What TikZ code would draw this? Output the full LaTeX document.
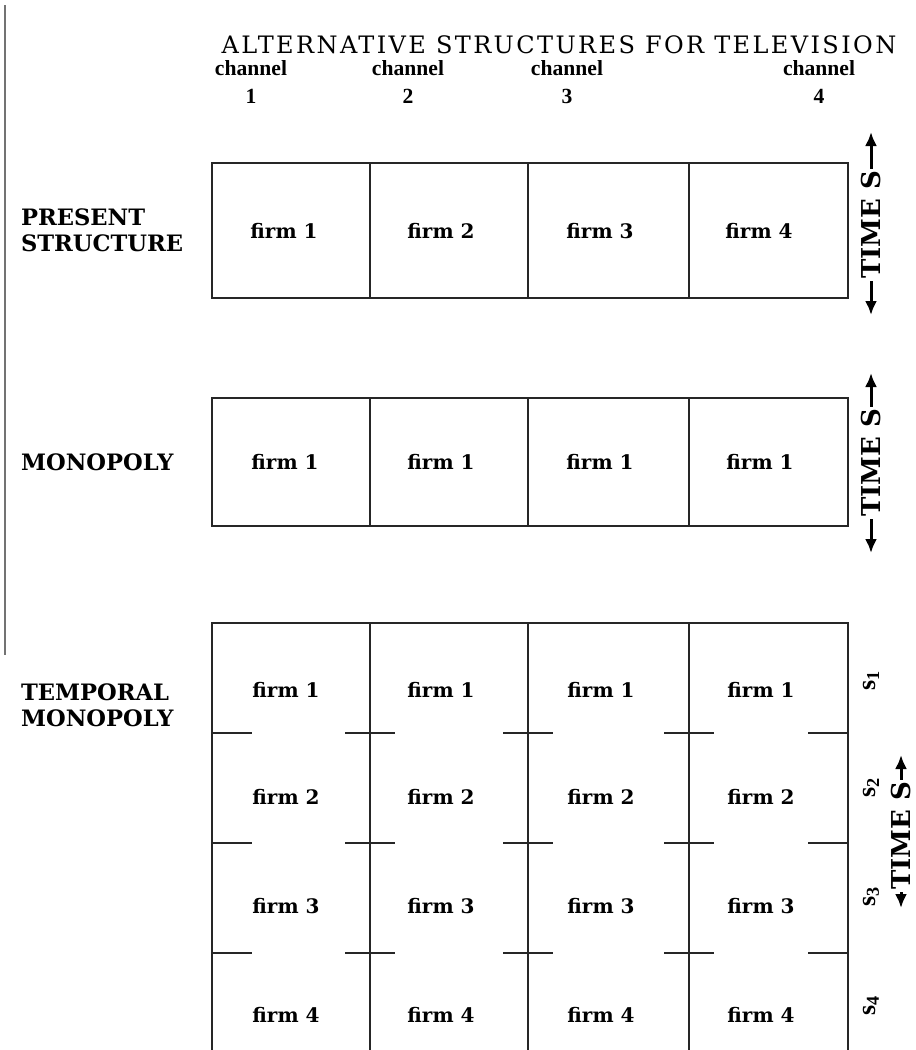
\documentclass[tikz,border=0pt]{standalone}
\usepackage{fontspec}
\setmainfont{DejaVu Serif}
\newfontfamily\timesfont{Liberation Serif}
\newfontfamily\titlefont[LetterSpace=10]{DejaVu Serif}
\usetikzlibrary{arrows.meta}

\begin{document}
\begin{tikzpicture}[x=0.5pt,y=-0.5pt,
    box/.style={line width=0.75pt, draw=black!85},
    firm/.style={font=\bfseries\fontsize{10}{12}\selectfont, inner sep=1pt},
    rowlab/.style={anchor=west, align=left, font=\bfseries\fontsize{11.3}{13}\selectfont},
    chanlab/.style={align=center, font=\timesfont\bfseries\fontsize{10.8}{14}\selectfont},
    timelab/.style={rotate=90, inner sep=1pt, font=\bfseries\fontsize{13}{15}\selectfont},
    slab/.style={rotate=90, font=\timesfont\bfseries\fontsize{13}{15}\selectfont},
    timearrow/.style={line width=1.5pt, -{Latex[length=7pt,width=6pt]}}]
      \useasboundingbox (0,0) rectangle (916,1050);

      % Margin rule
      \draw[black!55, line width=0.9pt] (5,5) -- (5,655);

      % Title and channels
      \node[font=\titlefont\fontsize{12}{14}\selectfont] (title) at (559,45)
        {ALTERNATIVE STRUCTURES FOR TELEVISION};
      \node[chanlab] (ch1) at (251,82) {channel\\1};
      \node[chanlab] (ch2) at (408,82) {channel\\2};
      \node[chanlab] (ch3) at (567,82) {channel\\3};
      \node[chanlab] (ch4) at (819,82) {channel\\4};

      % Present structure
      \node[rowlab] (present) at (14,230) {PRESENT\\STRUCTURE};
      \draw[box] (212,163) rectangle (848,298);
      \foreach \x in {370,528,689}
        \draw[box] (\x,163) -- (\x,298);
      \node[firm] (pf1) at (284,231) {firm 1};
      \node[firm] (pf2) at (441,231) {firm 2};
      \node[firm] (pf3) at (600,231) {firm 3};
      \node[firm] (pf4) at (759,231) {firm 4};

      % Monopoly
      \node[rowlab] (monopoly) at (14,462) {MONOPOLY};
      \draw[box] (212,398) rectangle (848,526);
      \foreach \x in {370,528,689}
        \draw[box] (\x,398) -- (\x,526);
      \node[firm] (mf1) at (285,462) {firm 1};
      \node[firm] (mf2) at (441,462) {firm 1};
      \node[firm] (mf3) at (600,462) {firm 1};
      \node[firm] (mf4) at (760,462) {firm 1};

      % Temporal monopoly
      \node[rowlab] (temporal) at (14,705) {TEMPORAL\\MONOPOLY};
      \draw[box] (212,1050) -- (212,623) -- (848,623) -- (848,1050);
      \foreach \x in {370,528,689}
        \draw[box] (\x,623) -- (\x,1050);
      \foreach \y in {733,843,953} {
        \draw[box] (212,\y) -- (252,\y);
        \draw[box] (808,\y) -- (848,\y);
        \foreach \x in {370,528,689}
          \draw[box] (\x-25,\y) -- (\x+25,\y);
      }
      \foreach \r/\y in {1/690,2/797,3/906,4/1015} {
        \node[firm] (tf\r a) at (286,\y) {firm \r};
        \node[firm] (tf\r b) at (441,\y) {firm \r};
        \node[firm] (tf\r c) at (601,\y) {firm \r};
        \node[firm] (tf\r d) at (761,\y) {firm \r};
        \node[slab] (s\r) at (871,\y-10) {s\textsubscript{\r}};
      }

      % Time axes
      \node[timelab] (time1) at (871,225) {TIME S};
      \coordinate (time1up) at (871,132);
      \coordinate (time1dn) at (871,315);
      \draw[timearrow] (time1.east) -- (time1up);
      \draw[timearrow] (time1.west) -- (time1dn);

      \node[timelab] (time2) at (871,463) {TIME S};
      \coordinate (time2up) at (871,373);
      \coordinate (time2dn) at (871,553);
      \draw[timearrow] (time2.east) -- (time2up);
      \draw[timearrow] (time2.west) -- (time2dn);

      \node[timelab] (time3) at (901,836) {TIME S};
      \coordinate (time3up) at (901,755);
      \coordinate (time3dn) at (901,908);
      \draw[timearrow] (time3.east) -- (time3up);
      \draw[timearrow] (time3.west) -- (time3dn);
    \end{tikzpicture}
\end{document}
